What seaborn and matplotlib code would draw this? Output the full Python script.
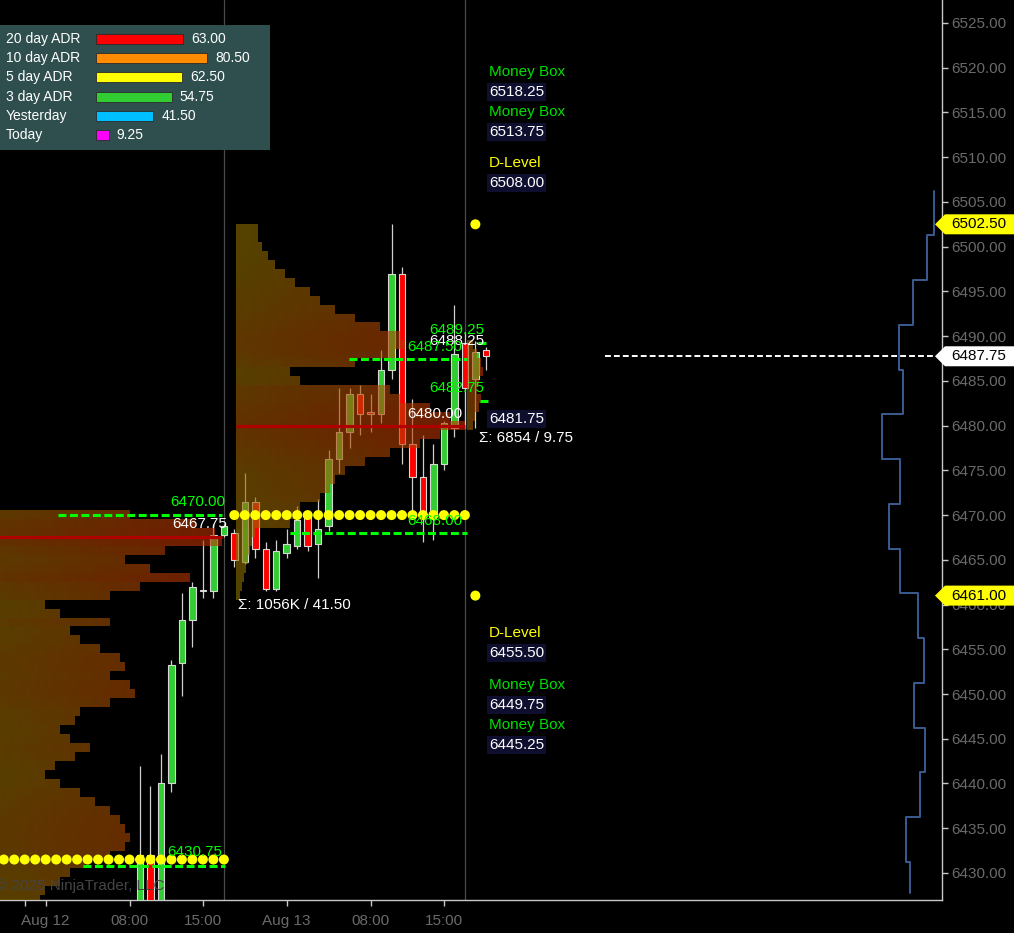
import numpy as np
import pandas as pd
import matplotlib
matplotlib.use("Agg")
import matplotlib.pyplot as plt
import matplotlib.transforms as mtransforms
from matplotlib.patches import Polygon
import seaborn as sns

# hourly bars, index 0 = Aug 12 09:00
opens  = [6425.00, 6432.00, 6425.00, 6440.00, 6453.50, 6458.25, 6461.50, 6461.50, 6467.75,
          6468.00, 6464.75, 6471.50, 6466.25, 6461.75, 6465.75, 6466.50, 6469.75, 6466.75,
          6468.75, 6476.25, 6479.25, 6483.50, 6481.50, 6481.25, 6486.25, 6497.00, 6478.00,
          6474.25, 6470.25, 6475.75, 6479.75, 6489.25, 6485.25, 6488.50]
highs  = [6442.00, 6439.75, 6443.25, 6453.75, 6461.25, 6462.50, 6467.25, 6469.00, 6469.00,
          6468.50, 6474.75, 6472.00, 6467.00, 6467.25, 6468.50, 6471.00, 6470.00, 6471.75,
          6477.25, 6484.25, 6484.25, 6484.50, 6483.50, 6488.50, 6502.50, 6497.75, 6483.00,
          6479.00, 6478.00, 6480.50, 6493.50, 6490.50, 6489.50, 6488.75]
lows   = [6420.00, 6421.00, 6423.00, 6439.00, 6449.75, 6455.25, 6460.75, 6460.75, 6467.50,
          6464.25, 6464.50, 6465.25, 6461.50, 6461.50, 6465.25, 6466.25, 6466.00, 6463.00,
          6468.25, 6474.75, 6477.50, 6479.00, 6479.25, 6480.25, 6485.25, 6475.75, 6470.50,
          6467.00, 6467.25, 6475.00, 6478.75, 6479.75, 6479.75, 6486.25]
closes = [6432.00, 6424.50, 6440.00, 6453.25, 6458.25, 6462.00, 6461.50, 6467.75, 6468.75,
          6465.00, 6471.50, 6466.25, 6461.75, 6466.00, 6466.75, 6469.50, 6466.50, 6468.50,
          6476.25, 6479.25, 6483.50, 6481.25, 6481.25, 6486.25, 6497.00, 6478.00, 6474.25,
          6470.25, 6475.75, 6480.25, 6488.00, 6484.25, 6488.25, 6487.75]

tick_pos = [-11, -9, -1, 6, 14, 22, 29]
tick_lbl = ["", "Aug 12", "08:00", "15:00", "Aug 13", "08:00", "15:00"]
session_starts = [8, 31]

adr_names = ["20 day ADR", "10 day ADR", "5 day ADR", "3 day ADR", "Yesterday", "Today"]
adr_vals = [63.00, 80.50, 62.50, 54.75, 41.50, 9.25]
adr_colors = ["#FF0000", "#FF8C00", "#FFFF00", "#32CD32", "#00BFFF", "#FF00FF"]

# volume profiles (1 pt rows, top -> bottom), widths in px units
prof1_top = 6470
prof1_vol = [140, 205, 225, 232, 175, 135, 160, 200, 150, 120, 55, 70, 120, 80, 90,
             110, 130, 135, 120, 140, 145, 120, 90, 85, 70, 80, 100, 85, 65, 55,
             70, 90, 105, 120, 130, 135, 140, 135, 120, 95, 80, 70, 55, 50]
prof2_top = 6502
prof2_vol = [22, 22, 26, 32, 39, 49, 59, 74, 84, 99, 119, 144, 164, 169, 159, 119, 54,
             64, 154, 164, 194, 214, 229, 204, 184, 154, 129, 109, 99, 94, 84, 64, 64,
             54, 19, 16, 14, 12, 10, 8, 6, 4]
prof3_top = 6489
prof3_vol = [6, 10, 14, 16, 12, 10, 14, 12, 8, 6]
poc1, poc2 = 6467.50, 6480.00

# right side step profile, 5 pt bins
step_edges = [6506.25, 6501.25, 6496.25, 6491.25, 6486.25, 6481.25, 6476.25, 6471.25, 6466.25,
              6461.25, 6456.25, 6451.25, 6446.25, 6441.25, 6436.25, 6431.25, 6427.75]
step_vals = [8, 15, 29, 43, 39, 60, 42, 53, 42, 24, 18, 28, 17, 22, 36, 32]

dots_low_bars = list(range(-13, 9))
dots_low_price = 6431.50
dots_high_bars = list(range(9, 32))
dots_high_price = 6470.00
dlevel_dots = [6502.50, 6461.00]

last_price = 6487.75

# ---- pixel helpers ----
W, H = 1014, 933
PXB = 10.48
def bx(px):
    return (px - 140) / PXB
def py(px):
    return 6525 - (px - 23) / 8.947

sns.set_theme(style="dark")
plt.rcParams['font.family'] = ['Liberation Sans', 'DejaVu Sans']

fig = plt.figure(figsize=(W / 100, H / 100), dpi=100, facecolor="black")
ax = fig.add_axes([0, 33 / H, 942 / W, 900 / H])
ax.set_facecolor("black")

# candles
df = pd.DataFrame(dict(o=opens, h=highs, l=lows, c=closes))
df["i"] = np.arange(len(df))
up = df.c >= df.o
ax.vlines(df.i, df.l, df.h, color="#cfcfcf", lw=0.9, zorder=2)
ax.bar(df.i, (df.c - df.o).abs().clip(lower=0.08), bottom=np.minimum(df.o, df.c), width=0.62,
       color=np.where(up, "#32CD32", "#FF0000"), edgecolor="#d8d8d8", linewidth=0.8, zorder=3)

for s in session_starts:
    ax.axvline(s, color="#4a4a4a", lw=0.9, zorder=1)

# profiles
olive = np.array([0.55, 0.45, 0.0])
red = np.array([0.75, 0.18, 0.0])
def draw_profile(top, vols, x0px, alpha=0.6):
    vols = np.array(vols, float)
    maxw = int(vols.max()) + 1
    img = np.zeros((len(vols), maxw, 4))
    for r, v in enumerate(vols):
        cols = np.arange(maxw)
        f = np.clip(0.55 * cols / maxw + 0.45 * v / vols.max(), 0, 1)
        rgb = olive[None, :] * (1 - f[:, None]) + red[None, :] * f[:, None]
        img[r, :, :3] = rgb
        img[r, :, 3] = np.where(cols < v, alpha, 0)
    ax.imshow(img, extent=(bx(x0px), bx(x0px + maxw), top - len(vols) + 0.5, top + 0.5),
              aspect="auto", interpolation="nearest", zorder=4)

draw_profile(prof1_top, prof1_vol, -10)
draw_profile(prof2_top, prof2_vol, 236)
draw_profile(prof3_top, prof3_vol, 467)
ax.hlines(poc1, bx(-10), bx(222), colors="#b00000", lw=2.2, zorder=5)
ax.hlines(poc2, bx(236), bx(465), colors="#b00000", lw=2.2, zorder=5)

# green levels
gdash = (0, (2.6, 1.15))
for y, x1, x2 in [(6470.00, 58, 222), (6430.75, 83, 225), (6487.50, 349, 467),
                  (6468.00, 290, 467), (6489.25, 478, 488), (6482.75, 480, 488)]:
    ax.hlines(y, bx(x1), bx(x2), colors="#00FF00", lw=2.2, linestyles=gdash, zorder=6)

ax.hlines(last_price, bx(605), bx(935), colors="white", lw=1.4, linestyles=(0, (3, 1.6)), zorder=6)

# dots
dots = pd.DataFrame({"bar": dots_low_bars + dots_high_bars + [32, 32],
                     "price": [dots_low_price] * len(dots_low_bars) + [dots_high_price] * len(dots_high_bars) + dlevel_dots})
sns.scatterplot(data=dots, x="bar", y="price", color="#FFFF00", s=52, edgecolor="none", ax=ax, zorder=7)

# step line
xs, ys = [], []
for i, v in enumerate(step_vals):
    xs += [bx(942 - v), bx(942 - v)]
    ys += [step_edges[i], step_edges[i + 1]]
sns.lineplot(x=xs, y=ys, sort=False, estimator=None, color="#3b5b8f", lw=1.4, ax=ax, zorder=6)

# texts
fs = 11
def lab(px, pyy, s, c, ha="left", box=False):
    kw = dict(color=c, fontsize=fs, ha=ha, va="center", zorder=9)
    if box:
        kw["bbox"] = dict(boxstyle="square,pad=0.12", fc="#0e0e2e", ec="none")
    ax.text(bx(px), py(pyy), s, **kw)

for pyy, s, c, box in [(72, "Money Box", "#00E000", False), (92, "6518.25", "white", True),
                       (112, "Money Box", "#00E000", False), (132, "6513.75", "white", True),
                       (163, "D-Level", "#FFFF00", False), (183, "6508.00", "white", True),
                       (419, "6481.75", "white", True),
                       (633, "D-Level", "#FFFF00", False), (653, "6455.50", "white", True),
                       (685, "Money Box", "#00E000", False), (705, "6449.75", "white", True),
                       (725, "Money Box", "#00E000", False), (745, "6445.25", "white", True)]:
    lab(489, pyy, s, c, box=box)
lab(479, 438, "Σ: 6854 / 9.75", "white")
lab(238, 605, "Σ: 1056K / 41.50", "white")
lab(225, 502, "6470.00", "#00FF00", ha="right")
lab(227, 524, "6467.75", "white", ha="right")
lab(167, 852, "6430.75", "#00FF00")
lab(429, 330, "6489.25", "#00FF00")
lab(429, 341, "6488.25", "white")
lab(407, 347, "6487.50", "#00FF00")
lab(429, 388, "6482.75", "#00FF00")
lab(407, 414, "6480.00", "white")
lab(407, 521, "6468.00", "#00FF00")
lab(-4, 886, "© 2025 NinjaTrader, LLC", "#444444")

# axes styling
ax.set_xlim(bx(0), bx(942))
ax.set_ylim(py(900), py(0))
ax.grid(False)
for k in ["left", "top"]:
    ax.spines[k].set_visible(False)
for k in ["right", "bottom"]:
    ax.spines[k].set_visible(True)
    ax.spines[k].set_color("#c8c8c8")
    ax.spines[k].set_linewidth(1.0)
ax.yaxis.tick_right()
yt = np.arange(6430, 6526, 5)
ax.set_yticks(yt)
ax.set_yticklabels([f"{v:.2f}" for v in yt])
ax.set_xticks(tick_pos)
ax.set_xticklabels(tick_lbl)
ax.tick_params(axis="both", colors="#c8c8c8", labelcolor="#6a6a6a", labelsize=11,
               length=4, width=1, direction="out")
ax.tick_params(axis="y", pad=3, right=True, left=False)
ax.tick_params(axis="x", pad=6, bottom=True)
ax.set_xlabel("")
ax.set_ylabel("")

# price markers on right axis
bt = mtransforms.blended_transform_factory(fig.transFigure, ax.transData)
hh = 10 / 8.947
for price, fc in [(6502.50, "#FFFF00"), (last_price, "white"), (6461.00, "#FFFF00")]:
    verts = [(935 / W, price), (945 / W, price + hh), (1.0, price + hh), (1.0, price - hh), (945 / W, price - hh)]
    fig.add_artist(Polygon(verts, closed=True, transform=bt, fc=fc, ec="none", zorder=10))
    fig.text(951 / W, price, f"{price:.2f}", transform=bt, color="black", fontsize=11, va="center", zorder=11)

# ADR box
lax = fig.add_axes([0, 1 - 150 / H, 270 / W, 125 / H])
lax.set_facecolor("#2F4F4F")
adr = pd.DataFrame({"name": adr_names, "val": adr_vals})
sns.barplot(data=adr, x="val", y="name", hue="name", palette=adr_colors, legend=False,
            orient="h", width=0.52, saturation=1, ax=lax, edgecolor="#2a2a2a", linewidth=0.6)
sc = 1.38
lax.set_xlim(-96 / sc, (270 - 96) / sc)
lax.set_ylim(5.78, -0.729)
for i, (n, v) in enumerate(zip(adr_names, adr_vals)):
    lax.text(-90 / sc, i, n, color="white", fontsize=10, va="center", ha="left")
    lax.text(v + 8 / sc, i, f"{v:.2f}", color="white", fontsize=10, va="center", ha="left")
lax.set_xticks([])
lax.set_yticks([])
lax.set_xlabel("")
lax.set_ylabel("")
for s in lax.spines.values():
    s.set_visible(False)

fig.savefig("out.png", dpi=100, facecolor="black")
